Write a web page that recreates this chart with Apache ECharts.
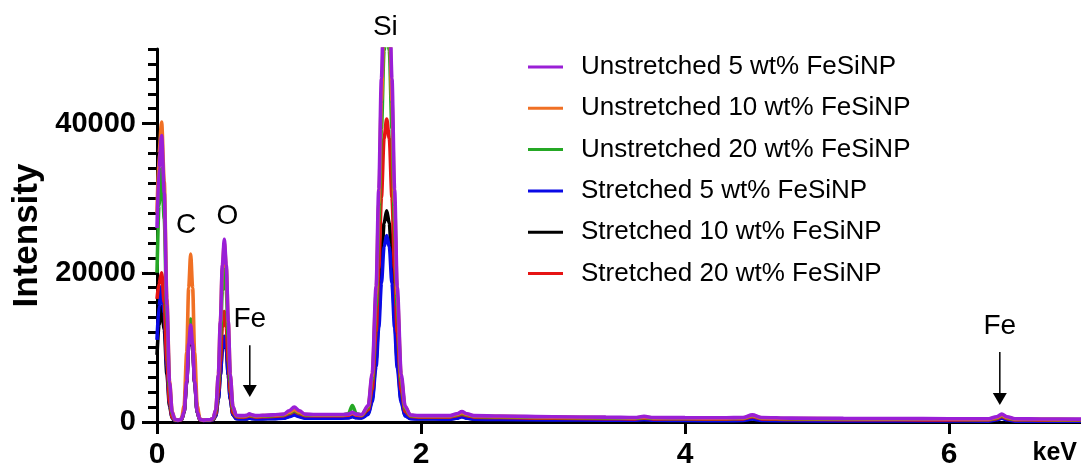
<!DOCTYPE html>
<html>
<head>
<meta charset="utf-8">
<title>EDS spectra</title>
<script src="https://cdn.jsdelivr.net/npm/echarts@6/dist/echarts.min.js"></script>
<style>
  html, body { margin: 0; padding: 0; background: #fff; }
  #chartEds { width: 1081px; height: 475px; }
</style>
</head>
<body>
<div id="chartEds"></div>
<script>
// energy grid (keV)
const energy = [
  0, 0.015, 0.035, 0.055, 0.075, 0.095, 0.115, 0.135,
  0.16, 0.185, 0.205, 0.225, 0.24, 0.255, 0.27, 0.285, 0.305, 0.325, 0.35, 0.375,
  0.40, 0.425, 0.445, 0.465, 0.48, 0.495, 0.51, 0.525, 0.54, 0.555, 0.575, 0.60, 0.625, 0.65,
  0.68, 0.70, 0.72, 0.75, 0.80, 0.88, 0.96, 1.00, 1.04, 1.08, 1.12, 1.2, 1.3, 1.4, 1.45, 1.48, 1.51, 1.55,
  1.6, 1.63, 1.66, 1.68, 1.70, 1.72, 1.74, 1.76, 1.78, 1.80, 1.82, 1.85, 1.88, 1.92, 1.98,
  2.1, 2.22, 2.27, 2.31, 2.35, 2.40, 2.6, 3.0, 3.4, 3.62, 3.69, 3.76, 4.0, 4.3, 4.44, 4.51, 4.58, 4.8, 5.2, 5.6, 6.0, 6.3, 6.36, 6.40, 6.44, 6.5, 6.7, 7.0
];

// intensities (counts)
const unstretched5 = [
  26000, 34000, 38400, 30700, 15800, 5300, 1300, 350,
  250, 350, 1350, 5500, 10400, 13000, 10400, 5500, 1350, 350, 250, 300,
  300, 470, 1650, 6400, 13500, 21000, 24500, 21000, 13500, 6400, 2100, 900, 850, 850,
  900, 1100, 950, 850, 900, 950, 1050, 1500, 2000, 1500, 1050, 1000, 1000, 1000, 1050, 1300, 1050, 1000,
  2200, 6500, 18200, 31200, 46000, 58200, 62000, 58200, 46000, 31200, 18100, 6400, 2100, 950, 850,
  850, 850, 1100, 1400, 1100, 850, 800, 700, 650, 600, 750, 600, 580, 560, 600, 950, 600, 520, 480, 460, 440, 430, 700, 1050, 700, 430, 400, 380
];
const unstretched10 = [
  28000, 36000, 40200, 32200, 16500, 5500, 1400, 350,
  250, 420, 2150, 9300, 18000, 22500, 18000, 9300, 2150, 420, 250, 300,
  300, 460, 1620, 6300, 13300, 20600, 24000, 20600, 13300, 6300, 2050, 850, 800, 800,
  850, 1000, 900, 800, 850, 900, 1000, 1300, 1650, 1300, 1000, 950, 950, 950, 1000, 1200, 1000, 950,
  2100, 6100, 17100, 29200, 43000, 54500, 58000, 54500, 43000, 29200, 17000, 6000, 2000, 900, 800,
  800, 800, 1000, 1250, 1000, 800, 750, 650, 600, 550, 650, 550, 530, 510, 550, 850, 550, 470, 430, 410, 390, 380, 600, 900, 600, 380, 360, 340
];
const unstretched20 = [
  20000, 29000, 34000, 27200, 14000, 4600, 1100, 300,
  250, 360, 1400, 5900, 11000, 13800, 11000, 5900, 1400, 360, 250, 300,
  280, 420, 1400, 5400, 11300, 17600, 20500, 17600, 11300, 5400, 1800, 800, 750, 750,
  800, 950, 850, 750, 800, 850, 950, 1200, 1500, 1200, 950, 900, 900, 900, 1100, 2200, 1100, 900,
  1950, 5600, 15600, 26700, 39300, 49800, 53000, 49800, 39300, 26700, 15500, 5500, 1800, 850, 750,
  750, 750, 950, 1150, 950, 750, 700, 600, 550, 500, 600, 500, 480, 460, 500, 800, 500, 430, 400, 380, 360, 350, 550, 850, 550, 350, 330, 310
];
const stretched5 = [
  11000, 15500, 18200, 14600, 7500, 2500, 600, 200,
  200, 300, 1250, 5400, 10200, 12800, 10200, 5400, 1250, 300, 200, 220,
  200, 280, 830, 3100, 6300, 9900, 11500, 9900, 6300, 3100, 1000, 450, 400, 400,
  400, 550, 450, 400, 420, 450, 500, 700, 950, 700, 520, 520, 520, 520, 550, 700, 560, 540,
  1000, 2700, 7500, 12700, 18600, 23500, 25000, 23500, 18600, 12700, 7300, 2600, 800, 450, 400,
  400, 380, 500, 700, 500, 380, 330, 280, 250, 230, 300, 230, 200, 180, 200, 400, 200, 160, 150, 140, 130, 120, 300, 500, 300, 120, 110, 100
];
const stretched10 = [
  9000, 13000, 15500, 12400, 6400, 2100, 500, 180,
  200, 300, 1250, 5300, 10100, 12600, 10100, 5300, 1250, 300, 200, 220,
  200, 280, 820, 3050, 6250, 9800, 11400, 9800, 6250, 3050, 1000, 480, 430, 430,
  430, 600, 480, 430, 450, 480, 530, 750, 1000, 750, 560, 560, 560, 560, 600, 780, 600, 580,
  1100, 3000, 8400, 14300, 21000, 26600, 28300, 26600, 21000, 14300, 8300, 2900, 900, 500, 450,
  450, 420, 550, 750, 550, 420, 370, 310, 280, 260, 320, 260, 230, 210, 230, 450, 230, 190, 170, 160, 150, 140, 330, 550, 330, 140, 130, 120
];
const stretched20 = [
  16500, 18500, 20000, 16000, 8200, 2700, 650, 250,
  220, 320, 1300, 5500, 10300, 12900, 10300, 5500, 1300, 320, 220, 250,
  250, 350, 1050, 3900, 8100, 12700, 14800, 12700, 8100, 3900, 1250, 700, 650, 650,
  700, 850, 750, 650, 700, 750, 850, 1100, 1400, 1100, 850, 850, 850, 850, 900, 1150, 900, 850,
  1650, 4400, 12100, 20600, 30100, 38000, 40600, 38000, 30100, 20600, 12000, 4300, 1400, 750, 650,
  650, 650, 850, 1000, 850, 650, 600, 500, 450, 420, 500, 420, 400, 380, 420, 700, 420, 350, 320, 300, 280, 270, 450, 750, 450, 270, 250, 230
];

const legendNames = [
  'Unstretched 5 wt% FeSiNP',
  'Unstretched 10 wt% FeSiNP',
  'Unstretched 20 wt% FeSiNP',
  'Stretched 5 wt% FeSiNP',
  'Stretched 10 wt% FeSiNP',
  'Stretched 20 wt% FeSiNP'
];
const xTickValues = [0, 2, 4, 6];
const yTickValues = [0, 20000, 40000];
const yMinorTickValues = [
  0, 2000, 4000, 6000, 8000, 10000, 12000, 14000, 16000, 18000, 20000, 22000, 24000,
  26000, 28000, 30000, 32000, 34000, 36000, 38000, 40000, 42000, 44000, 46000, 48000, 50000
];

// element labels and arrows, in data units
const peakLabels = [
  { text: 'Si', x: 1.73, y: 52950 },
  { text: 'C', x: 0.22, y: 26400 },
  { text: 'O', x: 0.533, y: 27600 },
  { text: 'Fe', x: 0.703, y: 13800 },
  { text: 'Fe', x: 6.385, y: 12870 }
];
const peakArrows = [
  { x: 0.703, from: 10300, to: 3350 },
  { x: 6.385, from: 9380, to: 2280 }
];

const font = 'Arial, "Liberation Sans", sans-serif';
const toPoints = arr => energy.map((e, i) => [e, arr[i]]);

const myChart = echarts.init(document.getElementById('chartEds'));

// drawing order: last one ends on top
const seriesDefs = [
  { name: legendNames[4], data: stretched10, color: '#000000' },
  { name: legendNames[3], data: stretched5, color: '#0a0ae6' },
  { name: legendNames[5], data: stretched20, color: '#e61414' },
  { name: legendNames[2], data: unstretched20, color: '#25a825' },
  { name: legendNames[1], data: unstretched10, color: '#f07024' },
  { name: legendNames[0], data: unstretched5, color: '#9a1fd6' }
];

const option = {
  animation: false,
  grid: { left: 157, right: -2, top: 49, bottom: 53 },
  legend: {
    data: legendNames,
    orient: 'vertical',
    left: 528,
    top: 52,
    padding: 0,
    icon: 'rect',
    itemWidth: 35,
    itemHeight: 3,
    itemGap: 11.3,
    selectedMode: false,
    textStyle: {
      fontSize: 26,
      lineHeight: 30,
      color: '#000',
      fontFamily: font,
      padding: [0, 0, 0, 13]
    }
  },
  xAxis: {
    type: 'value',
    min: 0,
    max: 7,
    axisLine: { onZero: false, lineStyle: { color: '#000', width: 3 } },
    axisTick: { customValues: xTickValues, length: 12, lineStyle: { color: '#000', width: 3 } },
    axisLabel: {
      customValues: xTickValues,
      margin: 18,
      fontSize: 30,
      fontWeight: 'bold',
      color: '#000',
      fontFamily: font
    },
    splitLine: { show: false }
  },
  yAxis: [{
    type: 'value',
    position: 'left',
    min: 0,
    max: 50000,
    name: 'Intensity',
    nameLocation: 'middle',
    nameGap: 112,
    nameTextStyle: { fontSize: 35, fontWeight: 'bold', color: '#000', fontFamily: font },
    axisLine: { show: true, onZero: false, lineStyle: { color: '#000', width: 3 } },
    axisTick: { customValues: yTickValues, length: 15, lineStyle: { color: '#000', width: 3 } },
    axisLabel: {
      customValues: yTickValues,
      formatter: v => String(v),
      margin: 21,
      fontSize: 29,
      fontWeight: 'bold',
      color: '#000',
      fontFamily: font
    },
    splitLine: { show: false }
  }, {
    type: 'value',
    position: 'left',
    min: 0,
    max: 50000,
    axisLine: { show: false },
    axisTick: { show: true, customValues: yMinorTickValues, length: 9, lineStyle: { color: '#000', width: 3 } },
    axisLabel: { show: false },
    splitLine: { show: false }
  }],
  series: seriesDefs.map(s => ({
    name: s.name,
    type: 'line',
    data: toPoints(s.data),
    yAxisIndex: 0,
    symbol: 'none',
    showSymbol: false,
    smooth: 0.3,
    smoothMonotone: 'x',
    clip: true,
    lineStyle: { color: s.color, width: 3.6 },
    itemStyle: { color: s.color }
  }))
};

myChart.setOption(option);

// labels + arrows placed through the axes
const toPx = (x, y) => myChart.convertToPixel({ xAxisIndex: 0, yAxisIndex: 0 }, [x, y]);
const graphics = [];
peakLabels.forEach(p => {
  const [px, py] = toPx(p.x, p.y);
  graphics.push({
    type: 'text', x: px, y: py, z: 10,
    style: { text: p.text, fontSize: 28, fontFamily: font, fill: '#000', align: 'center', verticalAlign: 'middle' }
  });
});
peakArrows.forEach(a => {
  const [x1, y1] = toPx(a.x, a.from);
  const [, y2] = toPx(a.x, a.to);
  graphics.push({
    type: 'line', z: 10,
    shape: { x1: x1, y1: y1, x2: x1, y2: y2 - 10 },
    style: { stroke: '#000', lineWidth: 1.5 }
  });
  graphics.push({
    type: 'polygon', z: 10,
    shape: { points: [[x1 - 7, y2 - 12], [x1 + 7, y2 - 12], [x1, y2]] },
    style: { fill: '#000' }
  });
});
graphics.push({
  type: 'text', right: 4, top: 441, z: 10,
  style: { text: 'keV', fontSize: 25, fontWeight: 'bold', fontFamily: font, fill: '#000' }
});
myChart.setOption({ graphic: graphics });

window.addEventListener('resize', () => {
  myChart.resize();
});
</script>
</body>
</html>
